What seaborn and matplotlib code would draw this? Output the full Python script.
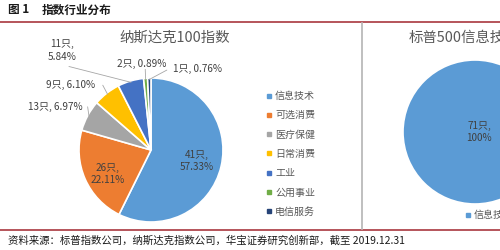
import matplotlib
matplotlib.use("Agg")
import matplotlib.pyplot as plt
import seaborn as sns
import numpy as np
from matplotlib.lines import Line2D

sns.set_theme(style="white")
plt.rcParams['font.family'] = ['Noto Sans CJK SC', 'DejaVu Sans']

# ---- data ----
fig_title_num = "图 1"
fig_title = "指数行业分布"
source_text = "资料来源：标普指数公司，纳斯达克指数公司，华宝证券研究创新部，截至 2019.12.31"

nasdaq_title = "纳斯达克100指数"
sectors = ["信息技术", "可选消费", "医疗保健", "日常消费", "工业", "公用事业", "电信服务"]
nasdaq_counts = [41, 26, 13, 9, 11, 2, 1]
nasdaq_pcts = [57.33, 22.11, 6.97, 6.10, 5.84, 0.89, 0.76]

sp_title = "标普500信息技术指数"
sp_sectors = ["信息技术"]
sp_counts = [71]
sp_pcts = [100]

colors = ["#5B9BD5", "#ED7D31", "#A5A5A5", "#FFC000", "#4472C4", "#70AD47", "#264478"]

# label placement (text positions in pie radius units) and style
label_pos = [(0.64, -0.15), (-0.60, -0.33), (-1.33, 0.60), (-1.12, 0.90),
             (-1.24, 1.38), (-0.13, 1.20), (0.64, 1.13)]
label_two_lines = [True, True, False, False, True, False, False]
label_inside = [True, True, False, False, False, False, False]

W, H = 500, 250
fig = plt.figure(figsize=(5, 2.5), dpi=100)
fig.patch.set_facecolor("white")

def px_axes(cx, cy, r):
    return fig.add_axes([(cx - r) / W, 1 - (cy + r) / H, 2 * r / W, 2 * r / H])

txt_color = "#404040"

# ---- left pie ----
ax1 = px_axes(151, 150, 72)
wedges, _ = ax1.pie(nasdaq_pcts, colors=colors, startangle=90, counterclock=False,
                    wedgeprops=dict(edgecolor="white", linewidth=1.2))
ax1.set_xlim(-1, 1); ax1.set_ylim(-1, 1); ax1.set_aspect("equal")
ax1.axis("off")
for w, n, p, pos, two, inside in zip(wedges, nasdaq_counts, nasdaq_pcts, label_pos,
                                     label_two_lines, label_inside):
    sep = ",\n" if two else ", "
    s = f"{n}只{sep}{p:.2f}%"
    ax1.text(pos[0], pos[1], s, ha="center", va="center", fontsize=7.2,
             color=txt_color, linespacing=1.3, clip_on=False)
    if not inside:
        ang = np.deg2rad((w.theta1 + w.theta2) / 2)
        ex, ey = np.cos(ang) * 0.98, np.sin(ang) * 0.98
        lx, ly = pos
        if two:
            ly = pos[1] - 0.22
            lx = pos[0] + 0.1
        elif pos[0] < -0.5:
            lx = pos[0] + 0.45
        elif pos[0] < 0.2:
            lx = pos[0] + 0.05; ly = pos[1] - 0.08
        else:
            lx = pos[0] - 0.42; ly = pos[1] - 0.02
        ax1.plot([lx, ex], [ly, ey], color="#A6A6A6", lw=0.6, clip_on=False)

fig.text(175 / W, 1 - 38 / H, nasdaq_title, ha="center", va="center",
         fontsize=10.4, color="#595959")

handles = [Line2D([0], [0], marker="s", linestyle="none", markersize=2.6,
                  markerfacecolor=c, markeredgecolor=c) for c in colors]
fig.legend(handles, sectors, loc="upper left", bbox_to_anchor=(262 / W, 1 - 87 / H),
           frameon=False, fontsize=7.2, labelspacing=0.93, handlelength=0.5,
           handletextpad=0.4, borderaxespad=0, labelcolor="#595959")

# ---- right pie ----
ax2 = px_axes(475, 132, 72)
ax2.pie(sp_pcts, colors=colors[:1], startangle=90, counterclock=False,
        wedgeprops=dict(edgecolor="white", linewidth=1.2))
ax2.set_xlim(-1, 1); ax2.set_ylim(-1, 1); ax2.set_aspect("equal")
ax2.axis("off")
ax2.text(0.06, 0.0, f"{sp_counts[0]}只,\n{sp_pcts[0]}%", ha="center", va="center",
         fontsize=7.2, color=txt_color, linespacing=1.3, clip_on=False)
fig.text(409 / W, 1 - 38 / H, sp_title, ha="left", va="center",
         fontsize=10.4, color="#595959")
fig.legend([Line2D([0], [0], marker="s", linestyle="none", markersize=2.6,
                   markerfacecolor=colors[0], markeredgecolor=colors[0])],
           sp_sectors, loc="center left", bbox_to_anchor=(461 / W, 1 - 215 / H),
           frameon=False, fontsize=7.2, handlelength=0.5, handletextpad=0.4,
           borderaxespad=0, labelcolor="#595959")

# ---- frame lines and text ----
red = "#B0474D"
fig.add_artist(Line2D([0, 1], [1 - 22 / H, 1 - 22 / H], color=red, lw=1.3))
fig.add_artist(Line2D([0, 1], [1 - 230 / H, 1 - 230 / H], color=red, lw=1.3))
fig.add_artist(Line2D([362 / W, 362 / W], [1 - 23 / H, 1 - 229 / H], color="#BFBFBF", lw=1.4))

fig.text(8 / W, 1 - 10 / H, fig_title_num, ha="left", va="center", fontsize=8.4,
         fontweight="bold", color="#1a1a1a")
fig.text(42 / W, 1 - 10 / H, fig_title, ha="left", va="center", fontsize=8.4,
         fontweight="bold", color="#1a1a1a")
fig.text(8 / W, 1 - 241 / H, source_text, ha="left", va="center", fontsize=7.5,
         color="#1a1a1a")

fig.savefig("out.png", dpi=100, facecolor="white")
